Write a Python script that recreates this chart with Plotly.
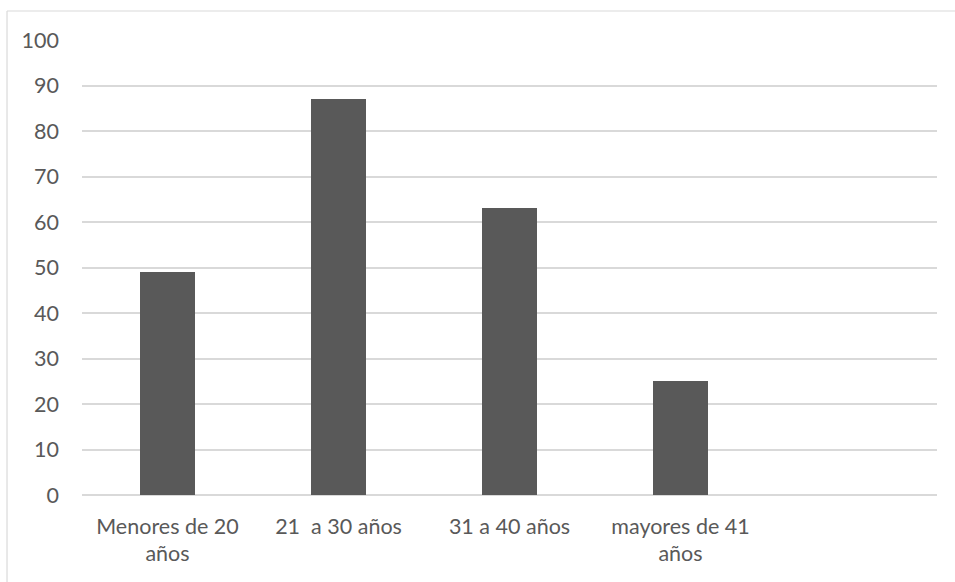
import plotly.graph_objects as go

# Age-group distribution
categories = ["Menores de 20<br>años", "21\u00a0 a 30 años", "31 a 40 años", "mayores de 41<br>años"]
values = [49, 87, 63, 25]
y_ticks = [0, 10, 20, 30, 40, 50, 60, 70, 80, 90, 100]

positions = list(range(len(categories)))

fig = go.Figure(
    go.Bar(
        x=positions,
        y=values,
        width=0.316,
        marker=dict(color="#595959", line=dict(width=0)),
        hoverinfo="skip",
    )
)

text_font = dict(family="Lato, Carlito, sans-serif", size=21.5, color="#595959")

fig.update_layout(
    width=955,
    height=582,
    margin=dict(l=82, r=18, t=40, b=87),
    paper_bgcolor="white",
    plot_bgcolor="white",
    showlegend=False,
    bargap=0,
    xaxis=dict(
        range=[-0.5, 4.5],
        tickvals=positions,
        ticktext=categories,
        tickfont=text_font,
        showgrid=False,
        zeroline=False,
        showline=False,
        ticks="",
        ticklabelstandoff=16,
        fixedrange=True,
    ),
    yaxis=dict(
        range=[0, 100],
        tickvals=y_ticks,
        tickfont=text_font,
        showgrid=True,
        gridcolor="#d9d9d9",
        gridwidth=1.5,
        zeroline=True,
        zerolinecolor="#d9d9d9",
        zerolinewidth=1.5,
        showline=False,
        ticks="",
        ticklabelstandoff=22,
        fixedrange=True,
    ),
    shapes=[
        # chart-area frame (top and left edges)
        dict(type="line", xref="paper", yref="paper",
             x0=-0.0877, x1=1.2, y0=1.0637, y1=1.0637,
             line=dict(color="#d9d9d9", width=1.2)),
        dict(type="line", xref="paper", yref="paper",
             x0=-0.0877, x1=-0.0877, y0=1.0637, y1=-0.3,
             line=dict(color="#d9d9d9", width=1.2)),
    ],
)

fig.write_html("out.html")
